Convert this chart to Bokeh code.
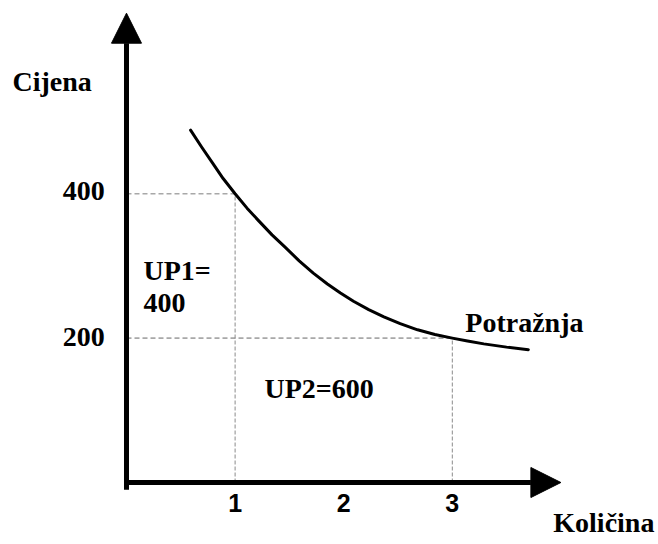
from bokeh.plotting import figure
from bokeh.models import Arrow, NormalHead, Range1d
from bokeh.core.properties import value
from bokeh.embed import file_html
from bokeh.resources import INLINE

# Demand curve (quantity, price)
curve_q = [0.59, 0.69, 0.79, 0.89, 1.0, 1.11, 1.22, 1.34, 1.46, 1.59, 1.72, 1.85, 1.97, 2.09,
           2.23, 2.37, 2.52, 2.68, 2.84, 3.0, 3.14, 3.29, 3.50, 3.70]
curve_p = [488, 465, 443, 421, 400, 380, 362, 343, 326, 307, 290, 275, 262.5, 251,
           239.5, 229.5, 220, 211.5, 205, 200, 196, 192, 187.5, 184]

# Reference points
ref_q = [1, 3]
ref_p = [400, 200]

# Tick labels
x_ticks = [1, 2, 3]
x_tick_labels = ["1", "2", "3"]
y_ticks = [400, 200]
y_tick_labels = ["400", "200"]

SERIF = value("Liberation Serif")
SANS = value("Liberation Sans")

p = figure(width=658, height=544, output_backend="svg", toolbar_location=None,
           x_range=Range1d(-1.1602, 4.8987), y_range=Range1d(-85.87, 667.59),
           min_border=0, outline_line_color=None)
p.xaxis.visible = False
p.yaxis.visible = False
p.grid.visible = False
p.background_fill_color = "white"

# dashed guide lines
p.segment(x0=[0] * len(ref_q), y0=ref_p, x1=ref_q, y1=ref_p,
          line_color="#a8a8a8", line_width=1.6, line_dash="5 3")
p.segment(x0=ref_q, y0=[0] * len(ref_q), x1=ref_q, y1=ref_p,
          line_color="#8a8a8a", line_width=1, line_dash="4 2")

# demand curve
p.line(curve_q, curve_p, line_color="black", line_width=3, line_join="round", line_cap="round")

# axes with arrow heads
p.add_layout(Arrow(end=NormalHead(size=30, fill_color="black", line_color="black", line_width=1),
                   x_start=0, y_start=-10, x_end=0, y_end=650,
                   line_width=5, line_color="black"))
p.add_layout(Arrow(end=NormalHead(size=30, fill_color="black", line_color="black", line_width=1),
                   x_start=-0.02, y_start=0, x_end=4.0, y_end=0,
                   line_width=5, line_color="black"))

# tick labels
p.text(x=x_ticks, y=[-29] * len(x_ticks), text=x_tick_labels,
       text_font=SANS, text_font_style="bold", text_font_size="25px",
       text_align="center", text_baseline="alphabetic", text_color="black")
p.text(x=[-0.2] * len(y_ticks), y=[404, 201], text=y_tick_labels,
       text_font=SERIF, text_font_style="bold", text_font_size="28px",
       text_align="right", text_baseline="alphabetic", text_color="black")

# other labels
lab_x = [-1.05, 0.157, 0.157, 1.27, 3.12, 3.93]
lab_y = [556, 293.5, 248, 130.5, 222, -56]
lab_t = ["Cijena", "UP1=", "400", "UP2=600", "Potražnja", "Količina"]
p.text(x=lab_x, y=lab_y, text=lab_t,
       text_font=SERIF, text_font_style="bold", text_font_size="28px",
       text_align="left", text_baseline="alphabetic", text_color="black")

open("out.html", "w").write(file_html(p, INLINE))
